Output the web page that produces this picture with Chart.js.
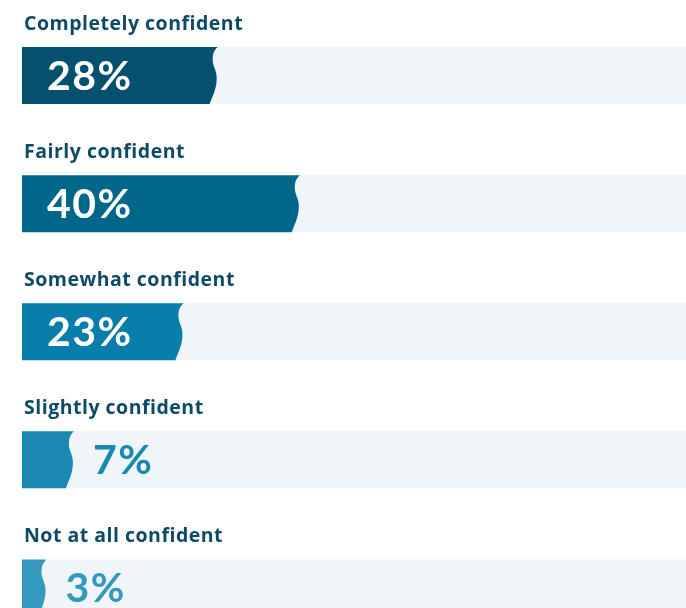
<!DOCTYPE html>
<html>
<head>
<meta charset="utf-8">
<script src="https://cdn.jsdelivr.net/npm/chart.js@4/dist/chart.umd.min.js"></script>
<style>
  html, body { margin: 0; padding: 0; background: #fff; overflow: hidden; }
  #wrap { width: 686px; height: 652px; position: relative; }
</style>
</head>
<body>
<div id="wrap"><canvas id="chart"></canvas></div>
<script>
// data
const categories = ['Completely confident', 'Fairly confident', 'Somewhat confident', 'Slightly confident', 'Not at all confident'];
const values = [28, 40, 23, 7, 3];

const barColors = ['#03506f', '#00678b', '#0a7eab', '#1a89b1', '#3499bd'];
const trackColor = '#eff5f9';
const labelColor = '#0d4a67';

// draws the track, the bar with a wavy end, the category label and the value
const wavyBars = {
  id: 'wavyBars',
  beforeDatasetsDraw(chart) {
    const ctx = chart.ctx;
    const area = chart.chartArea;
    const meta = chart.getDatasetMeta(0);
    meta.data.forEach((bar, i) => {
      const h = bar.height;
      const top = bar.y - h / 2;
      const left = bar.base;
      const e = bar.x;

      ctx.save();
      ctx.fillStyle = trackColor;
      ctx.fillRect(left, top, area.right - left, h);

      ctx.fillStyle = barColors[i];
      ctx.beginPath();
      ctx.moveTo(left, top);
      ctx.lineTo(e + 4, top);
      ctx.bezierCurveTo(e + 1, top + 0.05 * h, e - 1, top + 0.1 * h, e - 1, top + 0.22 * h);
      ctx.bezierCurveTo(e - 1, top + 0.35 * h, e + 3, top + 0.4 * h, e + 3, top + 0.55 * h);
      ctx.bezierCurveTo(e + 3, top + 0.75 * h, e - 2, top + 0.88 * h, e - 4, top + h);
      ctx.lineTo(left, top + h);
      ctx.closePath();
      ctx.fill();

      // category label above the bar
      ctx.fillStyle = labelColor;
      ctx.font = '700 19.5px "Open Sans"';
      ctx.letterSpacing = '0.5px';
      ctx.textBaseline = 'middle';
      ctx.textAlign = 'left';
      ctx.fillText(categories[i], left + 2, bar.y - 51.5);

      // value label
      ctx.font = '700 41px Lato';
      ctx.letterSpacing = '1.5px';
      const txt = values[i] + '%';
      if (values[i] >= 15) {
        ctx.fillStyle = '#ffffff';
        ctx.fillText(txt, left + 25, bar.y + 1);
      } else {
        ctx.fillStyle = barColors[i];
        ctx.fillText(txt, e + 23, bar.y + 1);
      }
      ctx.restore();
    });
    return false;
  }
};

new Chart(document.getElementById('chart'), {
  type: 'bar',
  data: {
    labels: categories,
    datasets: [{
      data: values,
      backgroundColor: barColors,
      barThickness: 57
    }]
  },
  options: {
    indexAxis: 'y',
    responsive: true,
    maintainAspectRatio: false,
    animation: false,
    layout: { padding: { left: 22, right: 0, top: 11.5, bottom: 0 } },
    scales: {
      x: { display: false, min: 0, max: 97 },
      y: { display: false, offset: true }
    },
    plugins: {
      legend: { display: false },
      tooltip: { enabled: false }
    }
  },
  plugins: [wavyBars]
});
</script>
</body>
</html>
